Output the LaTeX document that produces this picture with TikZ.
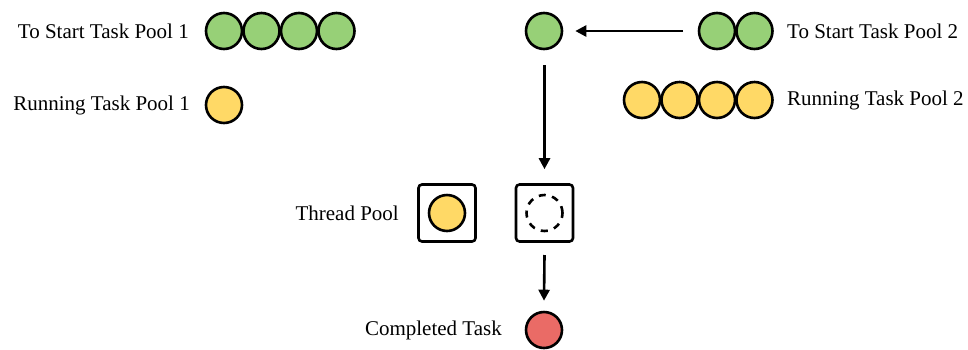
\documentclass[tikz,border=0pt]{standalone}
\usepackage{fontspec}
\setmainfont{Liberation Serif}
\usetikzlibrary{arrows.meta}
\definecolor{taskgreen}{HTML}{97D077}
\definecolor{taskyellow}{HTML}{FFD966}
\definecolor{taskred}{HTML}{EA6B66}
\tikzset{
  task/.style={circle, draw=black, line width=2.6pt, minimum size=36pt, inner sep=0pt},
  todo/.style={task, fill=taskgreen},
  run/.style={task, fill=taskyellow},
  done/.style={task, fill=taskred},
  slot/.style={circle, draw=black, line width=2.6pt, minimum size=36pt, inner sep=0pt, dash pattern=on 7pt off 6.5pt},
  threadbox/.style={draw=black, line width=2.6pt, rounded corners=3.5pt, minimum size=57pt, inner sep=0pt},
  lbl/.style={font=\fontsize{21pt}{24pt}\selectfont, inner sep=0pt},
  flow/.style={-{Triangle[length=11pt,width=11pt]}, line width=2.6pt},
}
\begin{document}
\begin{tikzpicture}[x=1pt,y=-1pt]
\useasboundingbox (0,0) rectangle (968,349);

% pool 1
\node[lbl, anchor=east] (l1) at (189,31) {To Start Task Pool 1};
\foreach \i/\x in {1/224,2/261.5,3/299,4/336.5}
  \node[todo] (a\i) at (\x,31) {};
\node[lbl, anchor=east] (l2) at (190,105) {Running Task Pool 1};
\node[run] (r1) at (224,105) {};

% pool 2
\node[todo] (b1) at (717,31) {};
\node[todo] (b2) at (754.5,31) {};
\node[lbl, anchor=west] (l3) at (787,31) {To Start Task Pool 2};
\foreach \i/\x in {1/642,2/679.5,3/717,4/754.5}
  \node[run] (s\i) at (\x,100) {};
\node[lbl, anchor=west] (l4) at (787,100) {Running Task Pool 2};

% picked task
\node[todo] (pick) at (544,31) {};
\coordinate (fromb) at (683,31);
\draw[flow] (fromb) -- ([xshift=12pt]pick.east);

% thread pool
\node[lbl, anchor=east] (l5) at (399,213) {Thread Pool};
\node[threadbox] (t1) at (447,213) {};
\node[run] (t1c) at (447,213) {};
\node[threadbox] (t2) at (544.5,213) {};
\node[slot] (t2c) at (544.5,213) {};

\coordinate (v1) at (544.5,65);
\draw[flow] (v1) -- ([yshift=14pt]t2.north);

% completed
\node[done] (fin) at (544,330) {};
\node[lbl, anchor=east] (l6) at (502,330) {Completed Task};
\coordinate (v3) at (544.5,255);
\draw[flow] (v3) -- ([yshift=10pt]fin.north);
\end{tikzpicture}
\end{document}
